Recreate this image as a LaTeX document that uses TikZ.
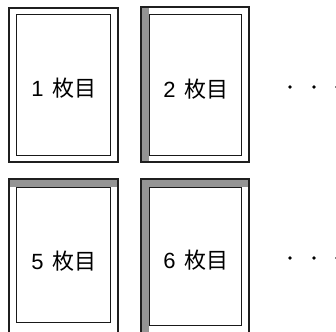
\documentclass[tikz,border=0pt]{standalone}
\usepackage{fontspec}
\setmainfont{Noto Sans CJK JP}
\newfontfamily\digitfont{Liberation Sans}
\begin{document}
\begin{tikzpicture}[x=1pt,y=-1pt]
\tikzset{
  outerbox/.style={draw=black!88, line width=1.8pt},
  innerbox/.style={draw=black!90, line width=1pt},
  band/.style={fill=black!42},
  pagelabel/.style={font=\fontsize{22}{22}\selectfont, inner sep=0pt},
  dotmark/.style={fill=black, circle, inner sep=0pt, minimum size=3.6pt}
}
\useasboundingbox (0,0) rectangle (336,331);
% sheet 1
\draw[outerbox] (9,8) rectangle (118,162);
\draw[innerbox] (16,15) rectangle (110,155);
\node[pagelabel] (p1) at (64,88) {{\digitfont 1}\hspace{0.4em}枚目};
% sheet 2
\fill[band] (141,7) rectangle (149,162);
\draw[outerbox] (141,7) rectangle (249,162);
\draw[innerbox] (149,15) rectangle (241,155);
\node[pagelabel] (p2) at (196,89) {{\digitfont 2}\hspace{0.4em}枚目};
% sheet 5
\fill[band] (9,179) rectangle (118,187);
\draw[outerbox] (9,179) rectangle (118,345);
\draw[innerbox] (16,187) rectangle (110,322);
\node[pagelabel] (p5) at (64,261) {{\digitfont 5}\hspace{0.4em}枚目};
% sheet 6
\fill[band] (141,179) rectangle (249,187);
\fill[band] (141,179) rectangle (149,345);
\draw[outerbox] (141,179) rectangle (249,345);
\draw[innerbox] (149,187) rectangle (241,325);
\node[pagelabel] (p6) at (196,260) {{\digitfont 6}\hspace{0.4em}枚目};
% dots
\node[dotmark] (d1) at (290,87) {};
\node[dotmark] (d2) at (314,87) {};
\node[dotmark] (d3) at (337,87) {};
\node[dotmark] (d4) at (290,258) {};
\node[dotmark] (d5) at (314,258) {};
\node[dotmark] (d6) at (337,258) {};
\end{tikzpicture}
\end{document}
